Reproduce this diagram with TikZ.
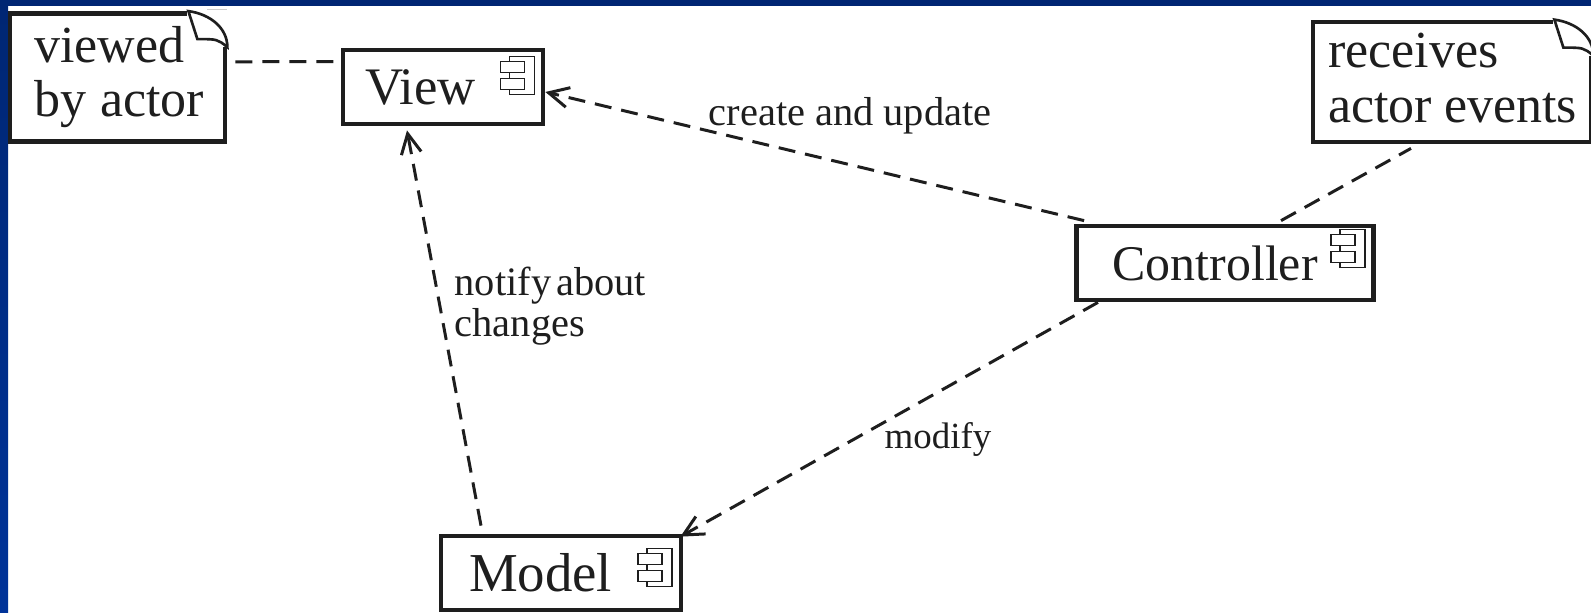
\documentclass[tikz,border=0pt]{standalone}
\usepackage{fontspec}
\setmainfont{Liberation Serif}
\usetikzlibrary{arrows.meta}
\definecolor{navy}{RGB}{0,38,115}
\definecolor{royal}{RGB}{0,51,153}
\definecolor{ink}{RGB}{30,30,30}
\tikzset{
	comp/.style={draw=ink, line width=1.35pt, fill=white, minimum height=0.74cm, align=left,
		text height=0.36cm, text depth=0cm, font=\fontsize{15}{16}\selectfont, text=ink},
	notebox/.style={draw=ink, line width=1.35pt, fill=white, inner ysep=0pt, align=left,
		font=\fontsize{14.8}{15.4}\selectfont, text=ink},
	dep/.style={draw=ink, line width=0.85pt, dash pattern=on 0.17cm off 0.10cm},
	deplabel/.style={inner sep=0pt, align=left, text=ink, font=\fontsize{11.5}{11.8}\selectfont},
	foldline/.style={draw=ink, line width=0.75pt, fill=white},
	>={Straight Barb[length=0.2cm, width=0.2cm]},
	pics/compicon/.style={code={
		\draw[draw=ink, line width=0.4pt, fill=white] (-0.33,0) rectangle (-0.08,-0.38);
		\draw[draw=ink, line width=0.4pt, fill=white] (-0.42,-0.05) rectangle (-0.18,-0.16);
		\draw[draw=ink, line width=0.4pt, fill=white] (-0.42,-0.22) rectangle (-0.18,-0.33);
	}}
}
\begin{document}
\begin{tikzpicture}
	\useasboundingbox (0,0) rectangle (15.91,6.12);

	% Hintergrund
	\fill[white] (0,0) rectangle (15.91,6.12);
	\shade[top color=navy, bottom color=royal] (0,0) rectangle (0.08,6.12);
	\fill[navy] (0,6.06) rectangle (15.91,6.12);

	% Komponenten
	\node[comp, inner xsep=0.22cm, text width=1.56cm] (view) at (4.43,5.25) {View};
	\node[comp, inner xsep=0.36cm, text width=2.25cm, font=\fontsize{14.2}{16}\selectfont] (controller) at (12.25,3.49) {Controller};
	\node[comp, inner xsep=0.28cm, text width=1.84cm, font=\fontsize{15.6}{16}\selectfont] (model) at (5.61,0.39) {Model};

	% Symbole in den Komponenten
	\pic at ([xshift=-0.03cm,yshift=-0.09cm]view.north east) {compicon};
	\pic at ([xshift=-0.03cm,yshift=-0.06cm]controller.north east) {compicon};
	\pic at ([xshift=-0.035cm,yshift=-0.15cm]model.north east) {compicon};

	% Notizen
	\node[notebox, inner xsep=0.24cm, text width=1.67cm, minimum height=1.28cm] (actornote) at (1.175,5.345) {viewed\\\mbox{by\hspace{-0.03cm} actor}};
	\node[notebox, inner xsep=0.15cm, text width=2.48cm, minimum height=1.2cm, execute at end node={\par\vspace*{0.08cm}}] (eventnote) at (14.52,5.30) {receives\\\mbox{actor\hspace{-0.05cm} events}};

	% Ecken der Notizen
	\fill[white] ([xshift=-0.4cm]actornote.north east) rectangle ([yshift=-0.36cm,xshift=0.03cm]actornote.north east);
	\draw[foldline] ([xshift=-0.39cm]actornote.north east) .. controls ([xshift=-0.17cm,yshift=-0.03cm]actornote.north east) and ([yshift=-0.17cm]actornote.north east) .. ([yshift=-0.36cm]actornote.north east) .. controls ([xshift=-0.1cm,yshift=-0.28cm]actornote.north east) .. ([xshift=-0.3cm,yshift=-0.28cm]actornote.north east) -- cycle;
	\draw[gray!40, line width=0.3pt] ([xshift=-0.2cm,yshift=0.02cm]actornote.north east) -- ([yshift=0.02cm]actornote.north east);
	\fill[white] ([xshift=-0.4cm]eventnote.north east) rectangle ([yshift=-0.36cm,xshift=0.03cm]eventnote.north east);
	\draw[foldline] ([xshift=-0.39cm]eventnote.north east) .. controls ([xshift=-0.17cm,yshift=-0.03cm]eventnote.north east) and ([yshift=-0.17cm]eventnote.north east) .. ([yshift=-0.36cm]eventnote.north east) .. controls ([xshift=-0.1cm,yshift=-0.28cm]eventnote.north east) .. ([xshift=-0.3cm,yshift=-0.28cm]eventnote.north east) -- cycle;

	% Abhaengigkeiten
	\draw[dep] ([xshift=0.08cm,yshift=0.157cm]actornote.east) -- ([xshift=-0.06cm,yshift=0.254cm]view.west);
	\draw[dep, ->] ([xshift=0.1cm,yshift=0.03cm]controller.north west) -- ([yshift=-0.05cm]view.east);
	\draw[dep, ->] ([xshift=-0.8cm,yshift=0.08cm]model.north) -- ([xshift=-0.36cm,yshift=-0.04cm]view.south);
	\draw[dep, ->] ([xshift=-1.27cm]controller.south) -- ([xshift=-0.03cm,yshift=-0.03cm]model.north east);
	\draw[dep] ([xshift=0.56cm,yshift=0.03cm]controller.north) -- ([xshift=-0.41cm,yshift=-0.04cm]eventnote.south);

	% Beschriftungen
	\node[deplabel, anchor=west] (updatelabel) at (7.08,4.96) {create and update};
	\node[deplabel, anchor=west] (notifylabel) at (4.54,3.06) {notify\hspace{-0.05cm} about\\changes};
	\node[deplabel, anchor=west, font=\fontsize{10.5}{11.8}\selectfont] (modifylabel) at (8.84,1.73) {modify};
\end{tikzpicture}
\end{document}
